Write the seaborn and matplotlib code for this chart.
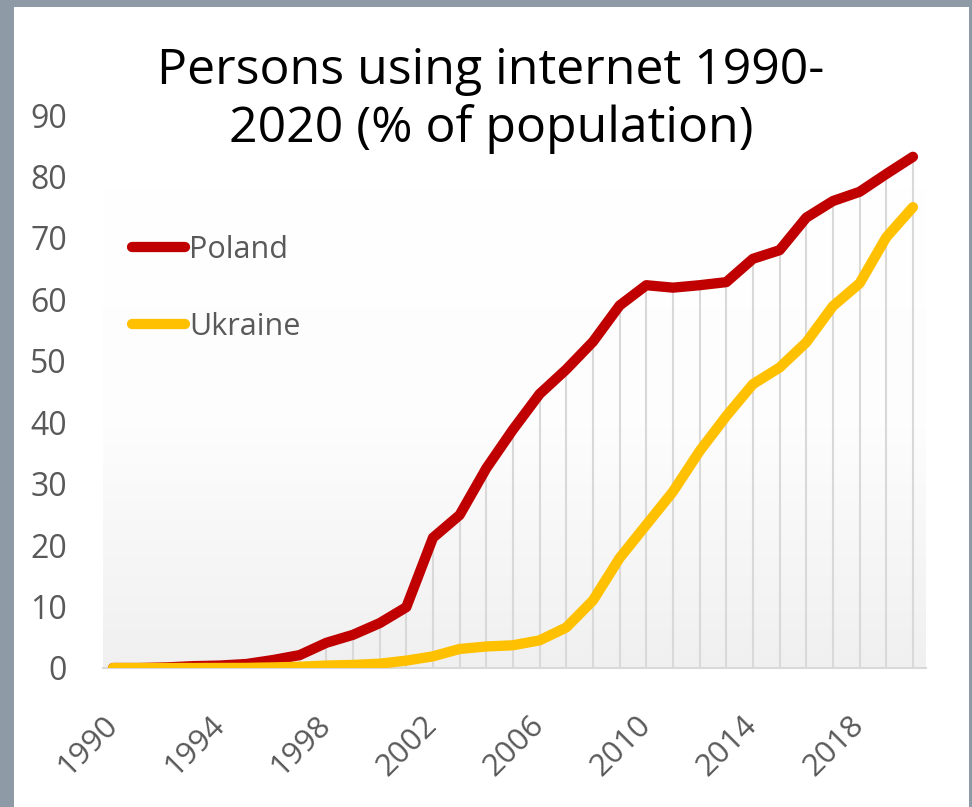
import numpy as np
import pandas as pd
import matplotlib
matplotlib.use("Agg")
import matplotlib.pyplot as plt
from matplotlib.patches import Rectangle
from matplotlib.colors import LinearSegmentedColormap
from matplotlib.lines import Line2D
import seaborn as sns

# ---- data (World Bank, % of population using internet) ----
years = list(range(1990, 2021))
poland = [0.0, 0.0, 0.1, 0.3, 0.4, 0.65, 1.3, 2.1, 4.1, 5.4, 7.3, 9.9, 21.2, 24.9,
          32.5, 38.8, 44.6, 48.6, 53.1, 59.0, 62.3, 61.9, 62.3, 62.8, 66.6, 68.0,
          73.3, 76.0, 77.5, 80.4, 83.2]
ukraine = [0.0, 0.0, 0.0, 0.0, 0.01, 0.02, 0.1, 0.2, 0.4, 0.5, 0.7, 1.2, 1.9, 3.1,
           3.5, 3.7, 4.5, 6.6, 11.0, 17.9, 23.3, 28.7, 35.3, 41.0, 46.2, 48.9,
           53.0, 58.9, 62.6, 70.1, 75.0]
countries = ["Poland", "Ukraine"]
colors = {"Poland": "#C00000", "Ukraine": "#FFC000"}
xtick_years = list(range(1990, 2020, 4))
yticks = list(range(0, 100, 10))
title = "Persons using internet 1990-\n2020 (% of population)"

df = pd.DataFrame({
    "Year": years * 2,
    "Value": poland + ukraine,
    "Country": ["Poland"] * len(years) + ["Ukraine"] * len(years),
})

sns.set_style("white")
plt.rcParams["font.family"] = ["Open Sans", "DejaVu Sans"]

W, H = 972, 807
fig = plt.figure(figsize=(W / 100, H / 100), dpi=100)
fig.patch.set_facecolor("#8e9aa6")
fig.patches.append(Rectangle((14 / W, 0), (969 - 14) / W, (H - 7) / H,
                             transform=fig.transFigure, facecolor="white",
                             edgecolor="none", zorder=-10))

ax = fig.add_axes([103 / W, (H - 668) / H, (926 - 103) / W, (668 - 115) / H])
ax.set_zorder(5)
ax.set_facecolor("none")
x0, x1 = 1989.625, 2020.49

# gradient plot-area background (white at top, light gray at bottom)
cmap = LinearSegmentedColormap.from_list("g", ["#ffffff", "#fdfdfd", "#f0f0f0"])
grad = np.linspace(1, 0, 256).reshape(-1, 1)
ax.imshow(grad, extent=[x0, x1, 0, 78], aspect="auto", cmap=cmap, vmin=0, vmax=1,
          origin="lower", zorder=0, interpolation="bicubic")

# drop lines from the top series
ax.vlines(years, 0, poland, color="#d9d9d9", lw=1.5, zorder=1)

sns.lineplot(data=df, x="Year", y="Value", hue="Country", hue_order=countries,
             palette=colors, linewidth=7.4, ax=ax, legend=False, zorder=3)
for ln in ax.lines:
    ln.set_solid_capstyle("round")
    ln.set_solid_joinstyle("round")

ax.set_xlim(x0, x1)
ax.set_ylim(0, 90)

for s in ["top", "right", "left"]:
    ax.spines[s].set_visible(False)
ax.spines["bottom"].set_color("#d9d9d9")
ax.spines["bottom"].set_linewidth(1.5)
ax.spines["bottom"].set_zorder(2)

ax.set_yticks(yticks)
ax.set_yticklabels([str(v) for v in yticks])
ax.set_xticks(xtick_years)
ax.set_xticklabels([str(v) for v in xtick_years], rotation=45, ha="right",
                   va="center", rotation_mode="anchor")
ax.tick_params(axis="y", length=0, pad=26, labelsize=23, labelcolor="#595959")
ax.tick_params(axis="x", length=0, pad=38, labelsize=22.5, labelcolor="#595959")
ax.set_xlabel("")
ax.set_ylabel("")
ax.grid(False)

handles = [Line2D([0], [0], color=colors[c], lw=7.4, solid_capstyle="round")
           for c in countries]
leg = ax.legend(handles, countries, loc="upper left",
                bbox_to_anchor=(132 / W, (H - 235) / H),
                bbox_transform=fig.transFigure, frameon=False, fontsize=22,
                handlelength=1.75, handletextpad=0.12, labelspacing=1.53,
                borderpad=0, borderaxespad=0)
for t in leg.get_texts():
    t.set_color("#595959")

fig.text(491 / W, (H - 100) / H, title, ha="center", va="center",
         fontsize=36, color="black", linespacing=1.2, zorder=20)

fig.savefig("out.png", dpi=100, facecolor=fig.get_facecolor())
